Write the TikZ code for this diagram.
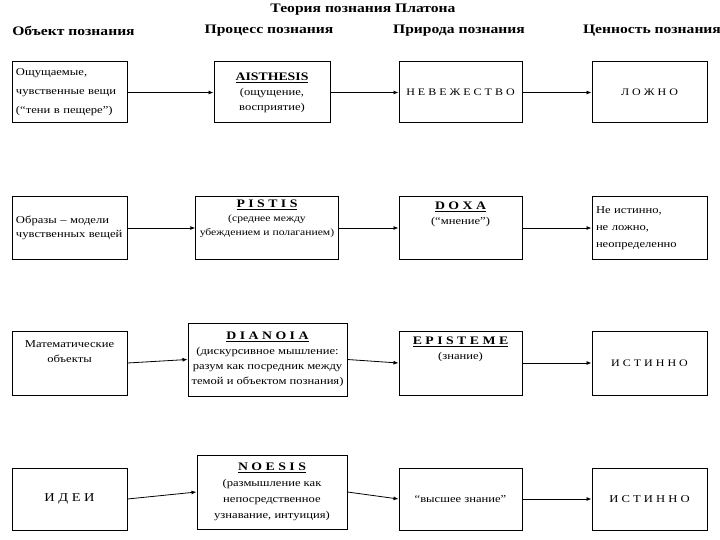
\documentclass[tikz,border=0pt]{standalone}
\usepackage{fontspec}
\setmainfont{Liberation Serif}[FakeStretch=1.2]
\usetikzlibrary{arrows.meta,positioning}

\tikzset{
  box/.style={draw, line width=1pt, align=center, inner sep=4pt,
    font=\fontsize{10.5}{15}\selectfont},
  head/.style={font=\fontsize{13}{15}\selectfont\bfseries},
  link/.style={-{Latex[length=5pt,width=4pt]}, line width=0.8pt},
}
\newcommand{\term}[1]{\underline{\fontsize{11.5}{15}\selectfont\textbf{#1}}}

\begin{document}
\begin{tikzpicture}[x=1pt, y=-1pt]
\useasboundingbox (0,0) rectangle (720,540);
% Title and column heads
\node[head] (title) at (363,10) {Теория познания Платона};
\node[head] (h1) at (73.5,31) {Объект познания};
\node[head] (h2) at (269,31) {Процесс познания};
\node[head] (h3) at (459,31) {Природа познания};
\node[head] (h4) at (652,31) {Ценность познания};
% Row 1
\node[box, text width=107pt, minimum height=61pt, align=left,
  font=\fontsize{10.5}{19}\selectfont] (o1) at (69.5,92.5)
  {Ощущаемые,\\чувственные вещи\\(“тени в пещере”)};
\node[box, minimum width=116pt, minimum height=61pt] (p1) at (272,92.5)
  {\term{AISTHESIS}\\(ощущение,\\восприятие)};
\node[box, minimum width=123pt, minimum height=61pt, font=\fontsize{10}{12}\selectfont] (n1) at (460.5,92.5) {Н Е В Е Ж Е С Т В О};
\node[box, minimum width=115pt, minimum height=61pt, font=\fontsize{10}{12}\selectfont] (v1) at (649.5,92.5) {Л О Ж Н О};
% Row 2
\node[box, text width=107pt, minimum height=62pt, align=left,
  font=\fontsize{10.5}{14}\selectfont] (o2) at (69.5,228)
  {Образы -- модели\\чувственных вещей\\[12pt]};
\node[box, minimum width=140pt, minimum height=62pt,
  font=\fontsize{9.7}{14}\selectfont] (p2) at (267,228)
  {\term{P I S T I S}\\(среднее между\\убеждением и полаганием)\\[6pt]};
\node[box, minimum width=123pt, minimum height=62pt] (n2) at (460.5,228)
  {\term{D O X A}\\(“мнение”)\\[14pt]};
\node[box, text width=107pt, minimum height=62pt, align=left,
  font=\fontsize{10.5}{17}\selectfont] (v2) at (649.5,228)
  {Не истинно,\\не ложно,\\неопределенно\\[-4pt]};
% Row 3
\node[box, minimum width=115pt, minimum height=64pt] (o3) at (69.5,363)
  {Математические\\объекты\\[8pt]};
\node[box, minimum width=159pt, minimum height=73pt, inner xsep=2pt] (p3) at (267.5,359.5)
  {\term{D I A N O I A}\\(дискурсивное мышление:\\разум как посредник между\\темой и объектом познания)};
\node[box, minimum width=123pt, minimum height=64pt] (n3) at (460.5,363)
  {\term{E P I S T E M E}\\(знание)\\[14pt]};
\node[box, minimum width=115pt, minimum height=64pt, font=\fontsize{10}{12}\selectfont] (v3) at (649.5,363) {И С Т И Н Н О};
% Row 4
\node[box, minimum width=115pt, minimum height=62pt, font=\fontsize{12}{14}\selectfont] (o4) at (69.5,499) {И Д Е И};
\node[box, minimum width=150pt, minimum height=74pt, font=\fontsize{10.5}{16}\selectfont] (p4) at (272,492)
  {\term{N O E S I S}\\(размышление как\\непосредственное\\узнавание, интуиция)};
\node[box, minimum width=123pt, minimum height=62pt] (n4) at (460.5,499) {“высшее знание”};
\node[box, minimum width=115pt, minimum height=62pt, font=\fontsize{10.5}{14}\selectfont] (v4) at (649.5,499) {И С Т И Н Н О};
% Arrows
\foreach \r in {1,2,3,4} {
  \draw[link] (o\r.east) -- (p\r.west);
  \draw[link] (p\r.east) -- (n\r.west);
  \draw[link] (n\r.east) -- (v\r.west);
}
\end{tikzpicture}
\end{document}
